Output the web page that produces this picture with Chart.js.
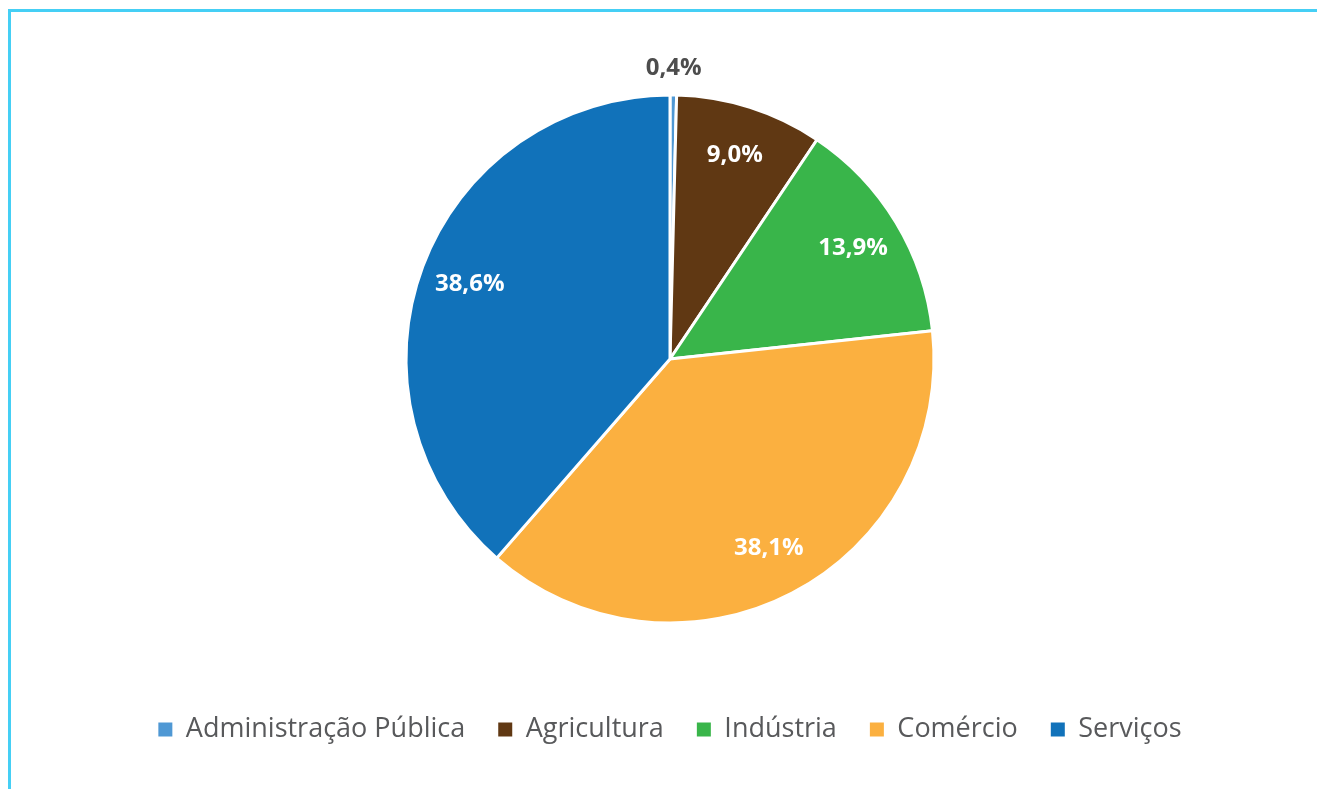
<!DOCTYPE html>
<html>
<head>
<meta charset="utf-8">
<script src="https://cdn.jsdelivr.net/npm/chart.js@4.4.0/dist/chart.umd.min.js"></script>
<style>
  html, body { margin: 0; padding: 0; background: #fff; }
  .frame {
    position: absolute; left: 8px; top: 9px;
    width: 1309px; height: 780px;
    border-left: 3px solid #45CFF5; border-top: 3px solid #45CFF5;
    box-sizing: border-box;
  }
  .wrap { position: absolute; left: 0; top: 0; right: 0; bottom: 0; }
</style>
</head>
<body>
<div class="frame"><div class="wrap"><canvas id="pieChart"></canvas></div></div>
<script>
// Dados do gráfico
const setores = ['Administração Pública', 'Agricultura', 'Indústria', 'Comércio', 'Serviços'];
const percentuais = [0.4, 9.0, 13.9, 38.1, 38.6];
const cores = ['#4F98D4', '#603813', '#39B54A', '#FBB040', '#1172BA'];

const fmt = v => v.toFixed(1).replace('.', ',') + '%';

// Rótulos de percentual sobre as fatias
const rotulosPlugin = {
  id: 'rotulos',
  afterDatasetsDraw(chart) {
    const ctx = chart.ctx;
    const meta = chart.getDatasetMeta(0);
    ctx.save();
    ctx.textAlign = 'center';
    ctx.textBaseline = 'middle';
    ctx.font = 'bold 24px "Open Sans"';
    meta.data.forEach((arc, i) => {
      const p = arc.getProps(['x', 'y', 'startAngle', 'endAngle', 'outerRadius']);
      const mid = (p.startAngle + p.endAngle) / 2;
      const small = percentuais[i] < 2;
      const r = p.outerRadius * (small ? 1.1 : 0.81);
      ctx.fillStyle = small ? '#4D4D4D' : '#FFFFFF';
      ctx.fillText(fmt(percentuais[i]), p.x + Math.cos(mid) * r, p.y + Math.sin(mid) * r);
    });
    ctx.restore();
  }
};

const ctx = document.getElementById('pieChart').getContext('2d');
new Chart(ctx, {
  type: 'pie',
  data: {
    labels: setores,
    datasets: [{
      data: percentuais,
      backgroundColor: cores,
      borderColor: '#FFFFFF',
      borderWidth: 3
    }]
  },
  options: {
    responsive: true,
    maintainAspectRatio: false,
    animation: false,
    radius: 264,
    layout: { padding: { left: 12, top: 23, bottom: 36 } },
    plugins: {
      legend: {
        position: 'bottom',
        labels: {
          boxWidth: 14,
          boxHeight: 14,
          padding: 33,
          color: '#58595B',
          font: { family: '"Open Sans"', size: 27 },
          generateLabels(chart) {
            const itens = Chart.overrides.pie.plugins.legend.labels.generateLabels(chart);
            itens.forEach(it => { it.lineWidth = 0; it.strokeStyle = 'transparent'; });
            return itens;
          }
        }
      },
      tooltip: { enabled: false }
    }
  },
  plugins: [rotulosPlugin]
});
</script>
</body>
</html>
